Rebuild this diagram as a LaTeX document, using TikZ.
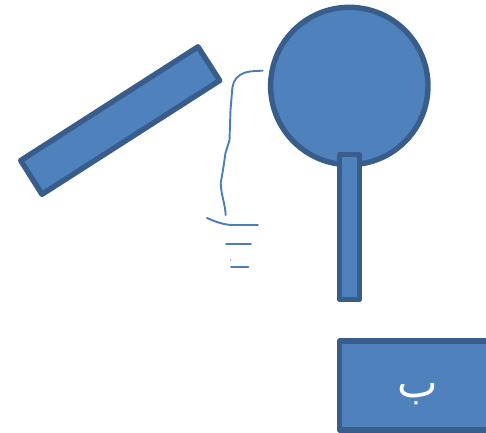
\documentclass[tikz,border=0pt]{standalone}
\usepackage{fontspec}
\newfontfamily\arabicfont[Script=Arabic]{DejaVu Sans}
\TeXXeTstate=1
\definecolor{shapefill}{HTML}{4F81BD}
\definecolor{shapeline}{HTML}{385D8A}
\definecolor{wirecol}{HTML}{4A7EBB}
\tikzset{
  solid shape/.style={fill=shapefill,draw=shapeline,line width=5.4pt,line join=round},
  wire/.style={draw=wirecol,line width=1.9pt,line cap=round,line join=round}
}
\begin{document}
\begin{tikzpicture}[x=1pt,y=-1pt]
\useasboundingbox (0,0) rectangle (486,432);
% tilted bar
\draw[solid shape] (198,46.8) -- (219.7,80.5) -- (42,194.3) -- (20.7,160.5) -- cycle;
% disc and stick
\draw[solid shape] (349.3,86) circle[radius=78.7];
\draw[solid shape] (339.5,154.5) rectangle (359.5,299.5);
% box cut by the picture edge
\begin{scope}
\clip (0,0) rectangle (486,432);
\draw[solid shape] (339.5,341) rectangle (495,430);
\end{scope}
\node[text=white,inner sep=0pt,font=\fontsize{43}{43}\arabicfont] (label) at (417.5,394) {\beginR ب\endR};
% wire
\draw[wire] (262.7,70.7) .. controls (252,71) and (245,71.5) .. (240,75)
  .. controls (234,79) and (232.5,84) .. (232,92)
  -- (230.5,110) -- (229.5,140) -- (225.5,153) -- (223,170) -- (220.7,183)
  .. controls (221,195) and (225,203) .. (225.7,215);
% ground symbol
\draw[wire] (207,218) .. controls (215,221.5) and (223,224.8) .. (233,225) -- (258,225);
\draw[wire] (226,243.7) -- (251,243.7);
\draw[wire] (231,267.3) -- (248.5,267.3);
\fill[wirecol] (230.7,260) circle[radius=0.7];
\end{tikzpicture}
\end{document}
